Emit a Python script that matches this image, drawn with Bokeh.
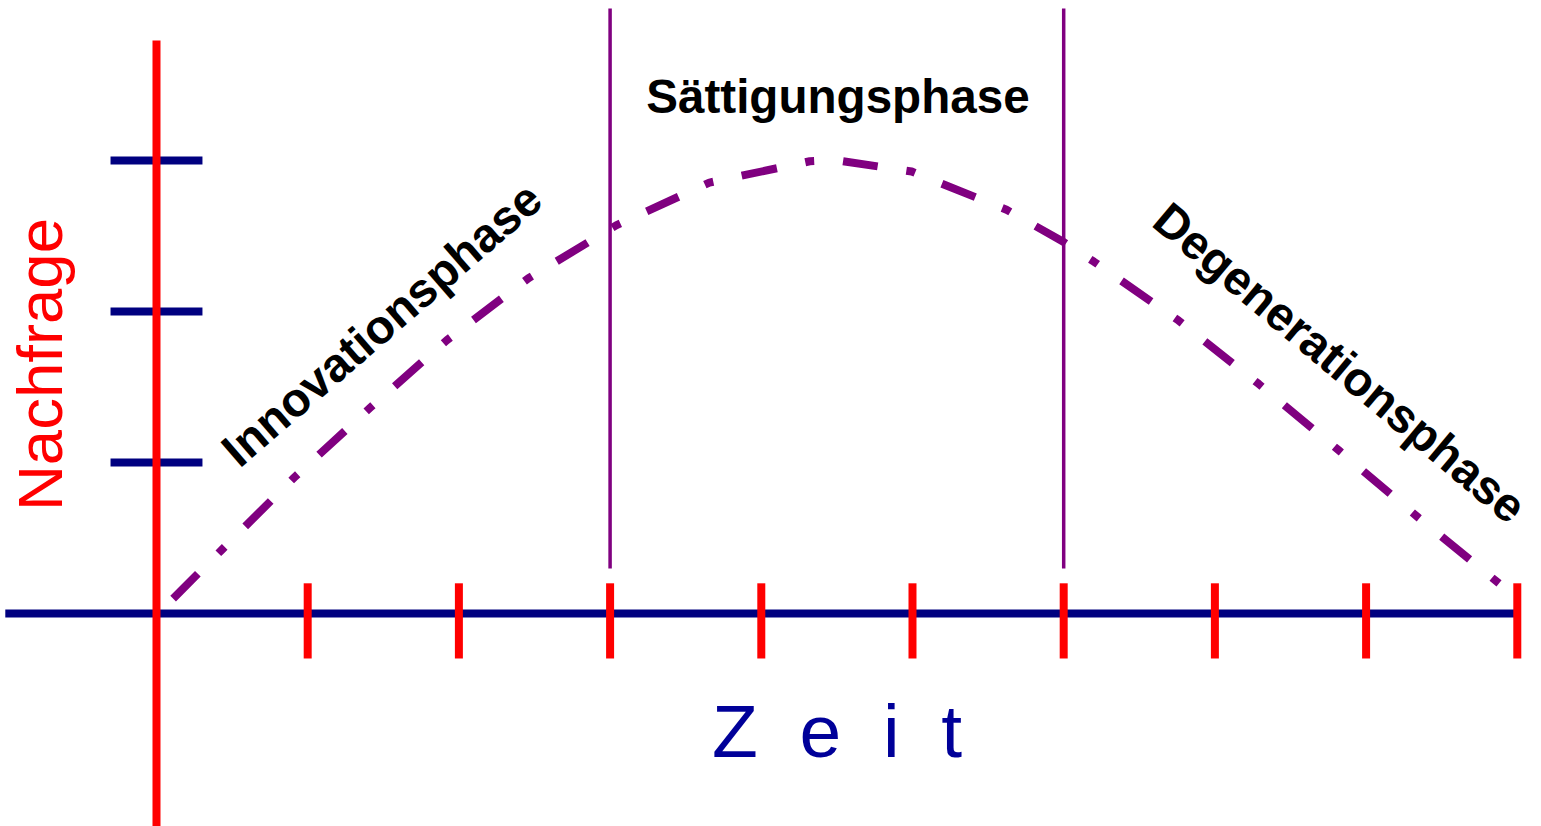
import math
from bokeh.plotting import figure
from bokeh.models import Range1d
from bokeh.core.properties import value
from bokeh.embed import file_html
from bokeh.resources import INLINE

# ---- data ----
time_ticks = [1, 2, 3, 4, 5, 6, 7, 8, 9]          # Zeit units
demand_ticks = [1, 2, 3]                          # Nachfrage units
phase_bounds = [3, 6]                             # borders of the Sättigungsphase
curve_x = [0.110, 0.43, 0.91, 1.41, 1.92, 2.46, 3.04, 3.657, 4.321, 4.491,
           4.995, 5.622, 6.00, 6.20, 6.76, 7.29, 7.82, 8.34, 8.89]
curve_y = [0.099, 0.42, 0.90, 1.36, 1.81, 2.22, 2.57, 2.854, 2.995, 3.003,
           2.927, 2.674, 2.46, 2.33, 1.94, 1.52, 1.08, 0.64, 0.19]
phase_labels = ["Innovationsphase", "Sättigungsphase", "Degenerationsphase"]
x_label = "Z\u00a0 e\u00a0 i\u00a0 t"
y_label = "Nachfrage"

FONT = value("Liberation Sans")
NAVY = "#000080"
RED = "#FF0000"
PURPLE = "#800080"

p = figure(width=1541, height=826, output_backend="svg", toolbar_location=None,
           x_axis_type=None, y_axis_type=None,
           x_range=Range1d(-1.0317, 9.1601), y_range=Range1d(-1.4106, 4.0596),
           min_border=0, outline_line_color=None,
           background_fill_color="white", border_fill_color="white")

# phase border lines
p.segment(x0=phase_bounds, y0=[0.298] * len(phase_bounds),
          x1=phase_bounds, y1=[4.007] * len(phase_bounds),
          line_color=PURPLE, line_width=3.5)

# horizontal (Zeit) axis
p.segment(x0=[-1.0], y0=[0], x1=[max(time_ticks)], y1=[0],
          line_color=NAVY, line_width=8)
# Nachfrage ticks
p.segment(x0=[-0.304] * len(demand_ticks), y0=demand_ticks,
          x1=[0.304] * len(demand_ticks), y1=demand_ticks,
          line_color=NAVY, line_width=8)
# vertical (Nachfrage) axis
p.segment(x0=[0], y0=[-1.45], x1=[0], y1=[3.795], line_color=RED, line_width=8)
# Zeit ticks
p.segment(x0=time_ticks, y0=[0.2] * len(time_ticks),
          x1=time_ticks, y1=[-0.298] * len(time_ticks),
          line_color=RED, line_width=8)

# life-cycle curve
p.line(curve_x, curve_y, line_color=PURPLE, line_width=8,
       line_dash="35 29 9 29 36 29 9 29", line_cap="butt", line_join="round")

# phase labels
p.text(x=[1.489, 4.507, 7.827], y=[1.917, 3.427, 1.661], text=phase_labels,
       angle=[math.radians(40.9), 0.0, math.radians(-39.95)],
       text_font=FONT, text_font_size="47.6px", text_font_style="bold",
       text_color="black", text_align="center", text_baseline="alphabetic")

# axis titles
p.text(x=[4.501], y=[-0.781], text=[x_label], text_font=FONT,
       text_font_size="75px", text_color="#000099",
       text_align="center", text_baseline="alphabetic")
p.text(x=[-0.769], y=[1.649], text=[y_label], angle=[math.pi / 2], text_font=FONT,
       text_font_size="63.5px", text_color=RED,
       text_align="center", text_baseline="alphabetic")

open("out.html", "w").write(file_html(p, INLINE))
